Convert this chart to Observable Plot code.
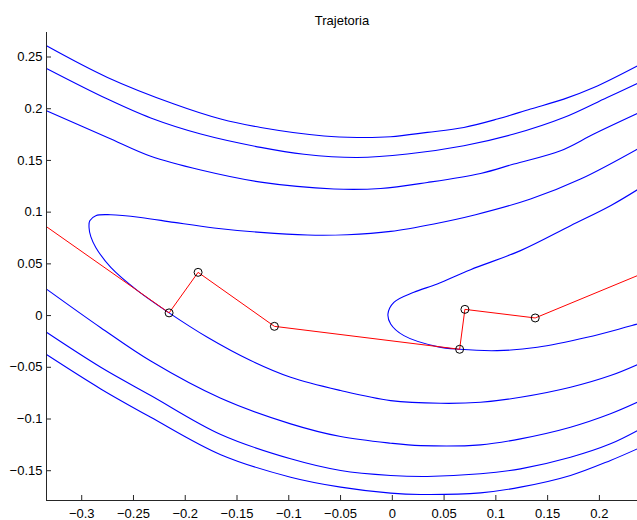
<!DOCTYPE html>
<html><head><meta charset="utf-8">
<script src="https://cdn.jsdelivr.net/npm/d3@7"></script>
<script src="https://cdn.jsdelivr.net/npm/@observablehq/plot@0.6"></script>
<style>body{margin:0;background:#fff;}</style>
</head><body><div id="chart"></div>
<script>
const title = "Trajetoria";
const xTicks = [-0.3,-0.25,-0.2,-0.15,-0.1,-0.05,0,0.05,0.1,0.15,0.2];
const yTicks = [-0.15,-0.1,-0.05,0,0.05,0.1,0.15,0.2,0.25];
const xDomain = [-0.334, 0.2368];
const yDomain = [-0.1788, 0.2737];

const contourU1 = [[-0.334,0.2608],[-0.2751,0.2302],[-0.2108,0.2045],[-0.1657,0.1900],[-0.1271,0.1819],[-0.0660,0.1736],[-0.0338,0.1722],[-0.0016,0.1729],[0.0338,0.1771],[0.0691,0.1819],[0.1014,0.1900],[0.1335,0.1997],[0.1656,0.2093],[0.1946,0.2205],[0.2368,0.2415]];
const contourU2 = [[-0.334,0.2389],[-0.2751,0.2093],[-0.2333,0.1910],[-0.1850,0.1755],[-0.1271,0.1626],[-0.0853,0.1560],[-0.0338,0.1529],[0.0145,0.1562],[0.0691,0.1642],[0.1174,0.1755],[0.1656,0.1915],[0.2075,0.2109],[0.2368,0.2244]];
const contourU3 = [[-0.334,0.1980],[-0.2751,0.1722],[-0.2333,0.1540],[-0.1850,0.1407],[-0.1271,0.1290],[-0.0564,0.1224],[-0.0113,0.1229],[0.0338,0.1287],[0.0852,0.1374],[0.1174,0.1465],[0.1625,0.1594],[0.1946,0.1755],[0.2368,0.1954]];
const contourA = [[0.2368,0.1610],[0.1818,0.1320],[0.1335,0.1127],[0.0804,0.0975],[0.0402,0.0886],[-0.0016,0.0814],[-0.0434,0.0782],[-0.0820,0.0779],[-0.1271,0.0804],[-0.1722,0.0847],[-0.2108,0.0901],[-0.2430,0.0949],[-0.2719,0.0975],[-0.2864,0.0966],[-0.2922,0.0917],[-0.2929,0.0850],[-0.2912,0.0763],[-0.2864,0.0659],[-0.2719,0.0466],[-0.2461,0.0241],[-0.2156,0.0026],[-0.1786,-0.0210],[-0.1368,-0.0435],[-0.0982,-0.0597],[-0.0499,-0.0725],[-0.0016,-0.0822],[0.0466,-0.0848],[0.0852,-0.0838],[0.1238,-0.0790],[0.1721,-0.0693],[0.2107,-0.0580],[0.2368,-0.0474]];
const contourB = [[0.2368,0.1217],[0.2107,0.1062],[0.1721,0.0869],[0.1238,0.0628],[0.0756,0.0444],[0.0434,0.0306],[0.0208,0.0225],[0.0015,0.0128],[-0.0042,0.0016],[-0.0016,-0.0081],[0.0112,-0.0194],[0.0434,-0.0300],[0.0650,-0.0326],[0.1014,-0.0339],[0.1400,-0.0307],[0.1882,-0.0210],[0.2368,-0.0081]];
const contourL1 = [[-0.334,0.0256],[-0.2816,-0.0117],[-0.2333,-0.0440],[-0.1657,-0.0800],[-0.0982,-0.1047],[-0.0499,-0.1170],[-0.0016,-0.1234],[0.0273,-0.1257],[0.0852,-0.1250],[0.1238,-0.1192],[0.1721,-0.1080],[0.2107,-0.0950],[0.2368,-0.0838]];
const contourL2 = [[-0.334,-0.0162],[-0.2816,-0.0500],[-0.2333,-0.0773],[-0.1657,-0.1150],[-0.0982,-0.1385],[-0.0499,-0.1498],[-0.0016,-0.1546],[0.0338,-0.1556],[0.0852,-0.1530],[0.1238,-0.1482],[0.1721,-0.1370],[0.2107,-0.1240],[0.2368,-0.1112]];
const contourL3 = [[-0.334,-0.0377],[-0.2816,-0.0709],[-0.2333,-0.0983],[-0.1657,-0.1345],[-0.0982,-0.1563],[-0.0499,-0.1659],[-0.0016,-0.1717],[0.0273,-0.1730],[0.0852,-0.1714],[0.1238,-0.1659],[0.1721,-0.1546],[0.2107,-0.1401],[0.2368,-0.1288]];

const trajX = [-0.45, -0.2156, -0.1876, -0.1139, 0.0650, 0.0701, 0.1380, 0.35];
const trajY = [0.1675, 0.0026, 0.0418, -0.0104, -0.0326, 0.0060, -0.0023, 0.0856];

const contours = [["U1",contourU1],["U2",contourU2],["U3",contourU3],["A",contourA],["B",contourB],["L1",contourL1],["L2",contourL2],["L3",contourL3]];
const contourRows = contours.flatMap(([id, pts]) => pts.map(([x, y]) => ({id, x, y})));
const traj = trajX.map((x, i) => ({x, y: trajY[i]}));

const W = 637, H = 520, mL = 46, mR = 0, mT = 32, mB = 20;
const kx = (W - mL - mR) / (xDomain[1] - xDomain[0]);
const ky = (H - mT - mB) / (yDomain[1] - yDomain[0]);
const tickLen = 5;
const fmt = d => String(+(+d).toFixed(2)).replace("-", "\u2212");
const axisColor = "#262626";

const chart = Plot.plot({
  width: W, height: H,
  marginLeft: mL, marginRight: mR, marginTop: mT, marginBottom: mB,
  x: {domain: xDomain},
  y: {domain: yDomain},
  style: {fontFamily: "'Liberation Sans', Arial, Helvetica, sans-serif", fontSize: "13px", color: "black", background: "white"},
  marks: [
    Plot.line(contourRows, {x: "x", y: "y", z: "id", stroke: "#0000ff", strokeWidth: 1.1, curve: "catmull-rom", clip: true}),
    Plot.line(traj, {x: "x", y: "y", stroke: "#ff0000", strokeWidth: 1, clip: true}),
    Plot.dot(traj, {x: "x", y: "y", r: 4, stroke: "black", strokeWidth: 1, fill: "none", clip: true}),
    Plot.ruleX([xDomain[0]], {stroke: axisColor}),
    Plot.ruleY([yDomain[0]], {stroke: axisColor}),
    Plot.ruleX(xTicks, {x: d => d, y1: yDomain[0], y2: yDomain[0] + tickLen / ky, stroke: axisColor}),
    Plot.ruleY(yTicks, {y: d => d, x1: xDomain[0], x2: xDomain[0] + tickLen / kx, stroke: axisColor}),
    Plot.axisX({ticks: xTicks, tickSize: 0, tickPadding: 8, tickFormat: fmt, label: null, fill: "black"}),
    Plot.axisY({ticks: yTicks, tickSize: 0, tickPadding: 4, tickFormat: fmt, label: null, fill: "black"}),
    Plot.text([title], {frameAnchor: "top", dy: -17, fontSize: 13, fill: "black"})
  ]
});
document.getElementById("chart").appendChild(chart);
</script>
</body></html>
